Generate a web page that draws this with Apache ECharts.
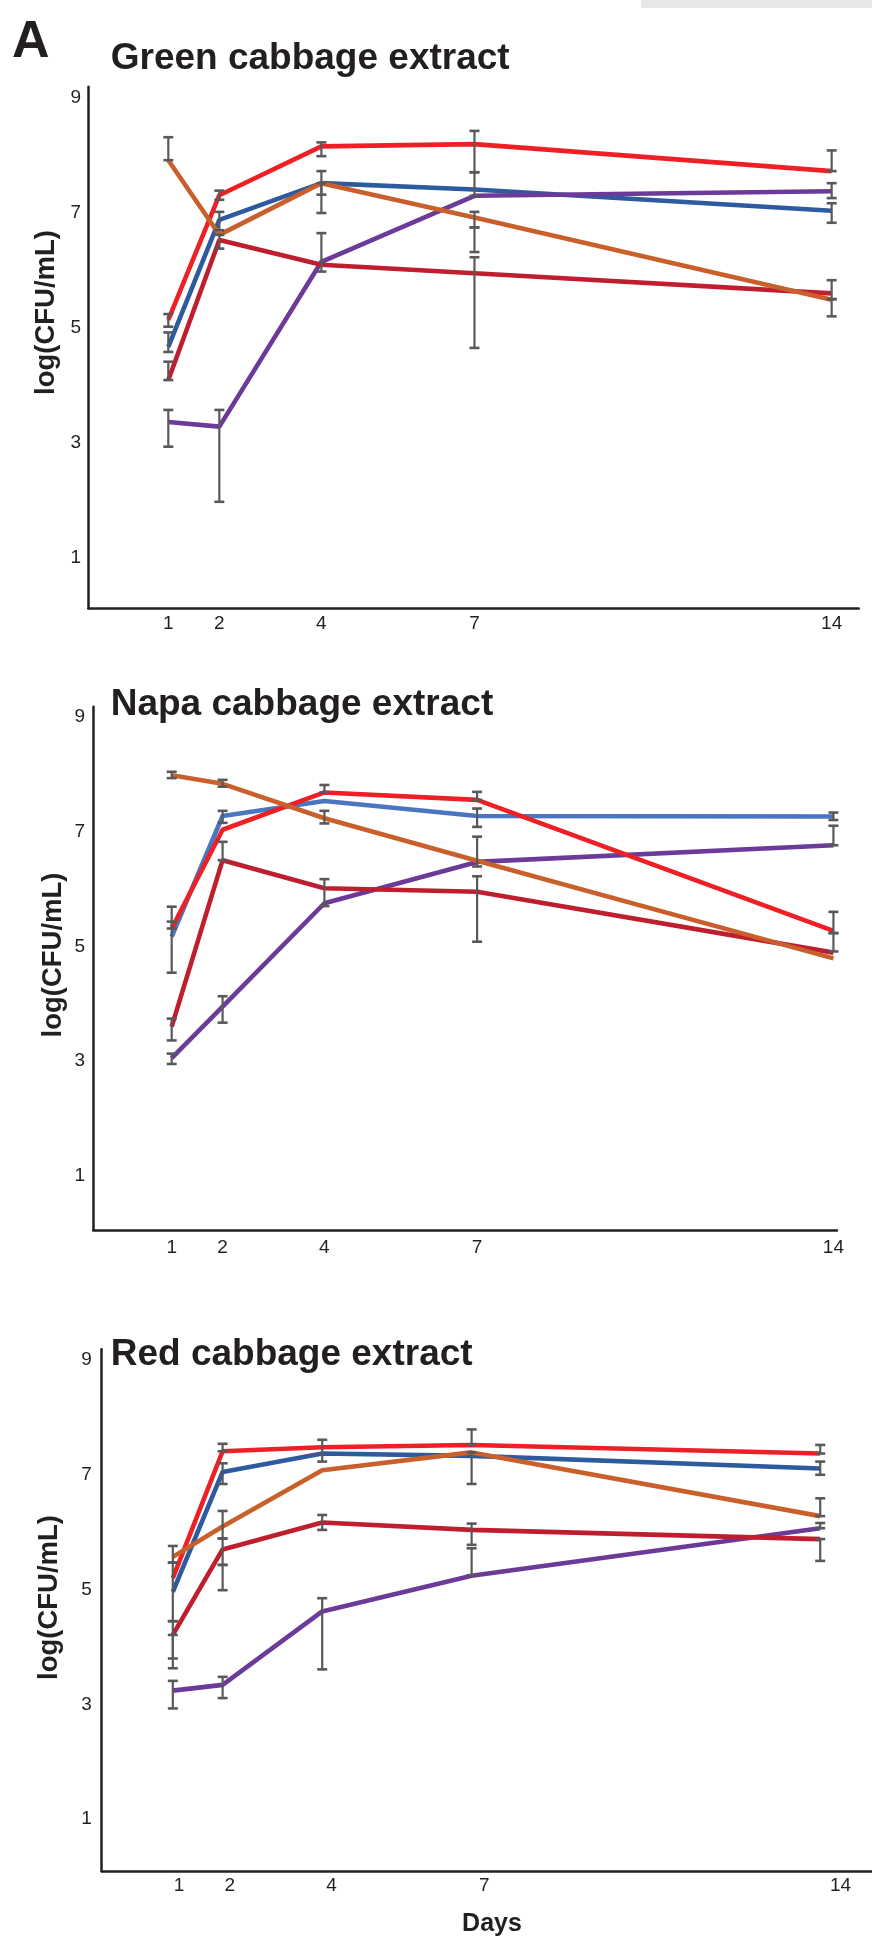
<!DOCTYPE html>
<html>
<head>
<meta charset="utf-8">
<script src="https://cdn.jsdelivr.net/npm/echarts@6/dist/echarts.min.js"></script>
<style>
html,body{margin:0;padding:0;background:#fff;}
#c{width:872px;height:1941px;}
</style>
</head>
<body>
<div id="c"></div>
<script>
// ---------------- data ----------------
const days = [1, 2, 4, 7, 14];
const dayTicks = [1, 2, 4, 7, 14];
const yTicks = [1, 3, 5, 7, 9];
const panelLetter = 'A';
const panelTitles = ['Green cabbage extract', 'Napa cabbage extract', 'Red cabbage extract'];
const yAxisName = 'log(CFU/mL)';
const xAxisName = 'Days';

// Green cabbage extract
const greenRed     = [5.14, 7.31, 8.16, 8.20, 7.73];
const greenBlue    = [4.67, 6.88, 7.52, 7.41, 7.04];
const greenOrange  = [7.92, 6.62, 7.52, 6.92, 5.49];
const greenDarkRed = [4.09, 6.53, 6.10, 5.95, 5.60];
const greenPurple  = [3.36, 3.28, 6.15, 7.30, 7.38];
// error bars: [day, low, high]
const greenErr = [
  [1, 7.92, 8.32], [1, 5.02, 5.24], [1, 4.58, 4.92], [1, 4.09, 4.41], [1, 2.93, 3.57],
  [2, 7.23, 7.39], [2, 6.70, 7.02], [2, 6.38, 6.62], [2, 1.97, 3.57],
  [4, 7.99, 8.23], [4, 7.32, 7.73], [4, 7.00, 7.52], [4, 5.98, 6.65],
  [7, 7.71, 8.43], [7, 7.30, 7.71], [7, 6.75, 7.02], [7, 6.32, 6.75], [7, 4.65, 6.23],
  [14, 7.73, 8.09], [14, 7.26, 7.52], [14, 6.83, 7.17], [14, 5.50, 5.83], [14, 5.20, 5.50]
];

// Napa cabbage extract
const napaRed     = [5.31, 7.03, 7.68, 7.55, 5.27];
const napaBlue    = [5.17, 7.27, 7.53, 7.27, 7.26];
const napaOrange  = [7.98, 7.83, 7.23, 6.49, 4.79];
const napaDarkRed = [3.60, 6.50, 6.01, 5.95, 4.89];
const napaPurple  = [3.05, 3.95, 5.75, 6.47, 6.76];
const napaErr = [
  [1, 7.93, 8.04], [1, 5.31, 5.69], [1, 4.54, 5.43], [1, 3.36, 3.74], [1, 2.95, 3.13],
  [2, 7.78, 7.90], [2, 7.15, 7.36], [2, 6.50, 6.82], [2, 3.67, 4.13],
  [4, 7.68, 7.81], [4, 7.14, 7.36], [4, 5.70, 6.17],
  [7, 7.55, 7.69], [7, 7.08, 7.40], [7, 6.39, 6.91], [7, 5.08, 6.22],
  [14, 7.20, 7.33], [14, 6.76, 7.10], [14, 5.23, 5.60], [14, 4.91, 5.23]
];

// Red cabbage extract
const redRed     = [5.20, 7.41, 7.48, 7.52, 7.37];
const redBlue    = [4.96, 7.05, 7.37, 7.33, 7.11];
const redOrange  = [5.57, 6.10, 7.08, 7.39, 6.28];
const redDarkRed = [4.21, 5.70, 6.17, 6.04, 5.88];
const redPurple  = [3.24, 3.34, 4.62, 5.24, 6.07];
const redErr = [
  [1, 5.47, 5.76], [1, 4.45, 5.47], [1, 3.63, 4.45], [1, 3.80, 4.21], [1, 2.93, 3.41],
  [2, 7.41, 7.54], [2, 6.84, 7.20], [2, 5.89, 6.37], [2, 5.43, 5.89], [2, 4.99, 5.43], [2, 3.11, 3.48],
  [4, 7.23, 7.61], [4, 6.04, 6.30], [4, 3.61, 4.85],
  [7, 7.52, 7.79], [7, 6.84, 7.39], [7, 5.78, 6.15], [7, 5.25, 5.72],
  [14, 7.37, 7.52], [14, 7.00, 7.23], [14, 6.28, 6.59], [14, 6.07, 6.16], [14, 5.50, 5.88]
];

// ---------------- chart ----------------
const FONT = '"Liberation Sans", Arial, Helvetica, sans-serif';
const INK = '#231F20';
const C_RED = '#EE2026', C_DKRED = '#BF1E2E', C_ORANGE = '#C9602B', C_PURPLE = '#6C3A98';
const C_BLUE = ['#2D5B9E', '#4A75BF', '#2D5B9E'];

const panels = [
  { red: greenRed, blue: greenBlue, orange: greenOrange, dkred: greenDarkRed, purple: greenPurple, err: greenErr },
  { red: napaRed, blue: napaBlue, orange: napaOrange, dkred: napaDarkRed, purple: napaPurple, err: napaErr },
  { red: redRed, blue: redBlue, orange: redOrange, dkred: redDarkRed, purple: redPurple, err: redErr }
];

const grids = [
  { left: 88.3, top: 86.7, width: 770.4, height: 521.6 },
  { left: 93.3, top: 706.7, width: 743.7, height: 523.1 },
  { left: 101.7, top: 1349.3, width: 770.3, height: 521.7 }
];
const xRanges = [[-0.568, 14.53], [-0.54, 14.07], [-0.428, 15.04]];
const yRanges = [[0.115, 9.2], [0.061, 9.174], [0.098, 9.186]];
const xLabelMargin = [5.7, 8, 5.7];
const yLabelMargin = [7.3, 8.3, 10];

const axisLineStyle = { color: INK, width: 2.5 };
const labelStyle = { color: INK, fontSize: 19, fontFamily: FONT };

const xAxes = [], yAxes = [], series = [];
grids.forEach((g, i) => {
  xAxes.push({
    type: 'value', gridIndex: i, position: 'bottom', min: xRanges[i][0], max: xRanges[i][1],
    axisLine: { show: true, onZero: false, lineStyle: axisLineStyle },
    axisTick: { show: false }, splitLine: { show: false },
    axisLabel: Object.assign({ show: i < 2, customValues: dayTicks, margin: xLabelMargin[i] }, labelStyle)
  });
  yAxes.push({
    type: 'value', gridIndex: i, position: 'left', min: yRanges[i][0], max: yRanges[i][1],
    axisLine: { show: true, onZero: false, lineStyle: axisLineStyle },
    axisTick: { show: false }, splitLine: { show: false },
    axisLabel: Object.assign({ customValues: yTicks, margin: yLabelMargin[i] }, labelStyle)
  });
});
// label-only axis for the third panel (its day labels sit slightly right of the data)
xAxes.push({
  type: 'value', gridIndex: 2, position: 'bottom', offset: 0, min: -0.519, max: 14.62,
  axisLine: { show: false, onZero: false }, axisTick: { show: false }, splitLine: { show: false },
  axisLabel: Object.assign({ customValues: dayTicks, margin: 5.7 }, labelStyle)
});

function lineSeries(i, name, vals, color) {
  return {
    type: 'line', name: name, xAxisIndex: i, yAxisIndex: i,
    data: days.map((d, k) => [d, vals[k]]),
    showSymbol: false, symbol: 'none', silent: true,
    lineStyle: { color: color, width: 4.6 }, itemStyle: { color: color }
  };
}

function errRender(params, api) {
  const x = api.value(0), lo = api.value(1), hi = api.value(2);
  const p1 = api.coord([x, lo]);
  const p2 = api.coord([x, hi]);
  const w = 5;
  const st = { stroke: '#58595B', lineWidth: 2.2 };
  const cst = { stroke: '#58595B', lineWidth: 2.6 };
  return {
    type: 'group',
    children: [
      { type: 'line', shape: { x1: p1[0], y1: p1[1], x2: p2[0], y2: p2[1] }, style: st },
      { type: 'line', shape: { x1: p1[0] - w, y1: p1[1], x2: p1[0] + w, y2: p1[1] }, style: cst },
      { type: 'line', shape: { x1: p2[0] - w, y1: p2[1], x2: p2[0] + w, y2: p2[1] }, style: cst }
    ]
  };
}

panels.forEach((p, i) => {
  series.push(lineSeries(i, 'blue', p.blue, C_BLUE[i]));
  series.push(lineSeries(i, 'purple', p.purple, C_PURPLE));
  series.push(lineSeries(i, 'darkred', p.dkred, C_DKRED));
  series.push(lineSeries(i, 'red', p.red, C_RED));
  series.push(lineSeries(i, 'orange', p.orange, C_ORANGE));
  series.push({
    type: 'custom', xAxisIndex: i, yAxisIndex: i, data: p.err,
    encode: { x: 0, y: [1, 2] }, renderItem: errRender, silent: true, clip: false, z: 5
  });
});

const titleY = [59.2, 704.9, 1354.9];
const yNamePos = [[46.5, 312.5], [53.5, 955], [49.5, 1597.5]];
const graphics = [
  { type: 'rect', shape: { x: 641, y: 0, width: 231, height: 8 }, style: { fill: '#E6E7E8' } },
  { type: 'text', x: 12, y: 42.4, style: { text: panelLetter, font: 'bold 52px ' + FONT, fill: INK, align: 'left', verticalAlign: 'middle' } },
  { type: 'text', x: 492, y: 1924.4, style: { text: xAxisName, font: 'bold 25px ' + FONT, fill: INK, align: 'center', verticalAlign: 'middle' } }
];
panelTitles.forEach((t, i) => {
  graphics.push({ type: 'text', x: 110.7, y: titleY[i], style: { text: t, font: 'bold 37px ' + FONT, fill: INK, align: 'left', verticalAlign: 'middle' } });
  graphics.push({ type: 'text', x: yNamePos[i][0], y: yNamePos[i][1], rotation: Math.PI / 2,
    style: { text: yAxisName, font: 'bold 27.5px ' + FONT, fill: INK, align: 'center', verticalAlign: 'middle' } });
});

const chart = echarts.init(document.getElementById('c'), null, { renderer: 'canvas' });
chart.setOption({
  animation: false,
  backgroundColor: '#ffffff',
  grid: grids,
  xAxis: xAxes,
  yAxis: yAxes,
  series: series,
  graphic: graphics
});
</script>
</body>
</html>
